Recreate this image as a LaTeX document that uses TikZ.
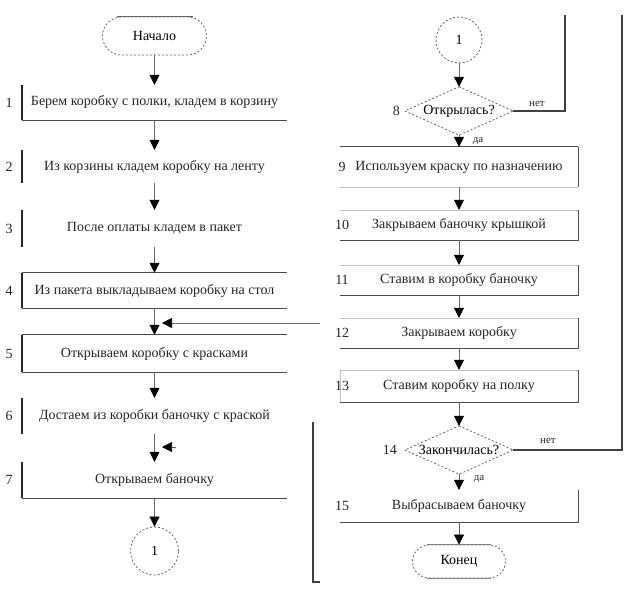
\documentclass[tikz,border=0pt]{standalone}
\usepackage{fontspec}
\setmainfont{Liberation Serif}
\usetikzlibrary{shapes.geometric,shapes.misc,arrows.meta}
\begin{document}
\begin{tikzpicture}[x=1pt,y=-1pt,
  font=\fontsize{14}{16}\selectfont,
  lbox/.style={rectangle,inner sep=0pt,minimum width=265pt,text=black!85},
  rbox/.style={rectangle,inner sep=0pt,minimum width=238pt,text=black!85},
  num/.style={inner sep=0pt,text=black!85},
  bar/.style={line width=1.6pt,black!85},
  rule/.style={line width=1.1pt,black!70},
  faint/.style={line width=0.6pt,black!25},
  dsh/.style={draw=black!60,line width=0.8pt,dash pattern=on 2pt off 2pt},
  flow/.style={draw=black!60,line width=0.7pt,-{Triangle[length=10pt,width=10pt,color=black]}},
  loopline/.style={draw=black!75,line width=1.2pt},
  lbl/.style={inner sep=0pt,font=\fontsize{11}{12}\selectfont,text=black!85}]
\fill[white] (0,0) rectangle (628,588);
\useasboundingbox (0,0) rectangle (628,588);

% ---------- left column ----------
\node[rounded rectangle,dsh,minimum width=104pt,minimum height=38pt,inner sep=0pt] (start) at (154.5,36) {Начало};
\draw[line width=0.8pt,black!60] ([xshift=-38pt]start.north) -- ([xshift=38pt]start.north);

\node[lbox,minimum height=35pt] (b1) at (154.5,102.5) {Берем коробку с полки, кладем в корзину};
\draw[bar] (b1.north west) -- (b1.south west);
\draw[rule] (b1.south west) -- (b1.south east);
\node[num] (n1) at (9,102.5) {1};

\node[lbox,minimum height=33pt] (b2) at (154.5,166.5) {Из корзины кладем коробку на ленту};
\draw[bar] (b2.north west) -- (b2.south west);
\node[num] (n2) at (9,166.5) {2};

\node[lbox,minimum height=37pt] (b3) at (154.5,228.5) {После оплаты кладем в пакет};
\draw[bar] (b3.north west) -- (b3.south west);
\node[num] (n3) at (9,228.5) {3};

\node[lbox,minimum height=35pt] (b4) at (154.5,290.5) {Из пакета выкладываем коробку на стол};
\draw[bar] (b4.north west) -- (b4.south west);
\draw[rule] (b4.north west) -- (b4.north east);
\draw[rule] (b4.south west) -- (b4.south east);
\node[num] (n4) at (9,290.5) {4};

\node[lbox,minimum height=37pt] (b5) at (154.5,353.5) {Открываем коробку с красками};
\draw[bar] (b5.north west) -- (b5.south west);
\draw[rule] (b5.north west) -- (b5.north east);
\draw[rule] (b5.south west) -- (b5.south east);
\node[num] (n5) at (9,353.5) {5};

\node[lbox,minimum height=36pt] (b6) at (154.5,416) {Достаем из коробки баночку с краской};
\draw[bar] (b6.north west) -- (b6.south west);
\node[num] (n6) at (9,416) {6};

\node[lbox,minimum height=36pt] (b7) at (154.5,480) {Открываем баночку};
\draw[bar] (b7.north west) -- (b7.south west);
\draw[rule] (b7.south west) -- (b7.south east);
\node[num] (n7) at (9,480) {7};

\node[circle,dsh,minimum size=48pt,inner sep=0pt] (c1) at (154.5,551) {1};

\draw[flow] (start.south) -- (b1.north);
\draw[flow] (b1.south) -- (b2.north);
\draw[flow] (b2.south) -- (b3.north);
\draw[flow] (b3.south) -- (b4.north);
\draw[flow] (b4.south) -- (b5.north);
\draw[flow] (b5.south) -- (b6.north);
\draw[flow] (b6.south) -- (b7.north);
\draw[flow] (b7.south) -- (c1.north);

\coordinate (r1) at (320,323);
\coordinate (j1) at (162,323);
\draw[flow] (r1) -- (j1);
\coordinate (r2) at (176,447);
\coordinate (j2) at (162,447);
\draw[flow] (r2) -- (j2);
\coordinate (v1) at (313,422);
\coordinate (v2) at (313,582);
\coordinate (v3) at (320,582);
\draw[loopline] (v1) -- (v2) -- (v3);

% ---------- right column ----------
\node[circle,dsh,minimum size=46pt,inner sep=0pt] (c2) at (459,40) {1};

\node[rectangle,minimum width=108pt,minimum height=48pt,inner sep=0pt] (d8) at (459,111) {Открылась?};
\draw[dsh] (d8.north) -- (d8.east) -- (d8.south) -- (d8.west) -- cycle;
\node[num,anchor=east] (n8) at (400,111) {8};

\node[rbox,minimum height=40pt] (b9) at (459,167) {Используем краску по назначению};
\draw[faint] (b9.south west) -- (b9.south east);
\draw[rule] (b9.north west) -- (b9.north east);
\draw[rule] (b9.north east) -- (b9.south east);
\node[num] (n9) at (342,167) {9};

\node[rbox,minimum height=30pt] (b10) at (459,225) {Закрываем баночку крышкой};
\draw[faint] (b10.north west) -- (b10.north east);
\draw[rule] (b10.north east) -- (b10.south east) -- (b10.south west);
\node[num] (n10) at (342,225) {10};

\node[rbox,minimum height=30pt] (b11) at (459,280) {Ставим в коробку баночку};
\draw[faint] (b11.north west) -- (b11.north east);
\draw[rule] (b11.north east) -- (b11.south east) -- (b11.south west);
\node[num] (n11) at (342,280) {11};

\node[rbox,minimum height=30pt] (b12) at (459,333) {Закрываем коробку};
\draw[faint] (b12.north west) -- (b12.north east);
\draw[rule] (b12.north east) -- (b12.south east) -- (b12.south west);
\node[num] (n12) at (342,333) {12};

\node[rbox,minimum height=32pt] (b13) at (459,386) {Ставим коробку на полку};
\draw[faint] (b13.south west) -- (b13.north west) -- (b13.north east);
\draw[rule] (b13.north east) -- (b13.south east) -- (b13.south west);
\node[num] (n13) at (342,386) {13};

\node[rectangle,minimum width=108pt,minimum height=48pt,inner sep=0pt] (d14) at (459,450) {Закончилась?};
\draw[dsh] (d14.north) -- (d14.east) -- (d14.south) -- (d14.west) -- cycle;
\node[num,anchor=east] (n14) at (397,450) {14};

\node[rbox,minimum height=32pt] (b15) at (459,506) {Выбрасываем баночку};
\draw[rule] (b15.north east) -- (b15.south east) -- (b15.south west);
\node[num] (n15) at (342,506) {15};

\node[rounded rectangle,dsh,minimum width=93pt,minimum height=33pt,inner sep=0pt] (end) at (459,561.5) {Конец};
\draw[line width=0.8pt,black!50] ([xshift=-32pt]end.north) -- ([xshift=32pt]end.north);
\draw[line width=0.8pt,black!50] ([xshift=-32pt]end.south) -- ([xshift=32pt]end.south);

\draw[flow] (c2.south) -- (d8.north);
\draw[flow] (d8.south) -- (b9.north);
\draw[flow] (b9.south) -- (b10.north);
\draw[flow] (b10.south) -- (b11.north);
\draw[flow] (b11.south) -- (b12.north);
\draw[flow] (b12.south) -- (b13.north);
\draw[flow] (b13.south) -- (d14.north);
\draw[flow] (d14.south) -- (b15.north);
\draw[flow] (b15.south) -- (end.north);

\node[lbl] (y8) at (478,141) {да};
\node[lbl] (y14) at (479,479) {да};
\node[lbl] (no8) at (537,104) {нет};
\node[lbl] (no14) at (548,441) {нет};

\coordinate (t1) at (565,15);
\coordinate (t2) at (622,15);
\draw[loopline] (d8.east) -- (t1 |- d8.east) -- (t1);
\draw[loopline] (d14.east) -- (t2 |- d14.east) -- (t2);
\end{tikzpicture}
\end{document}
